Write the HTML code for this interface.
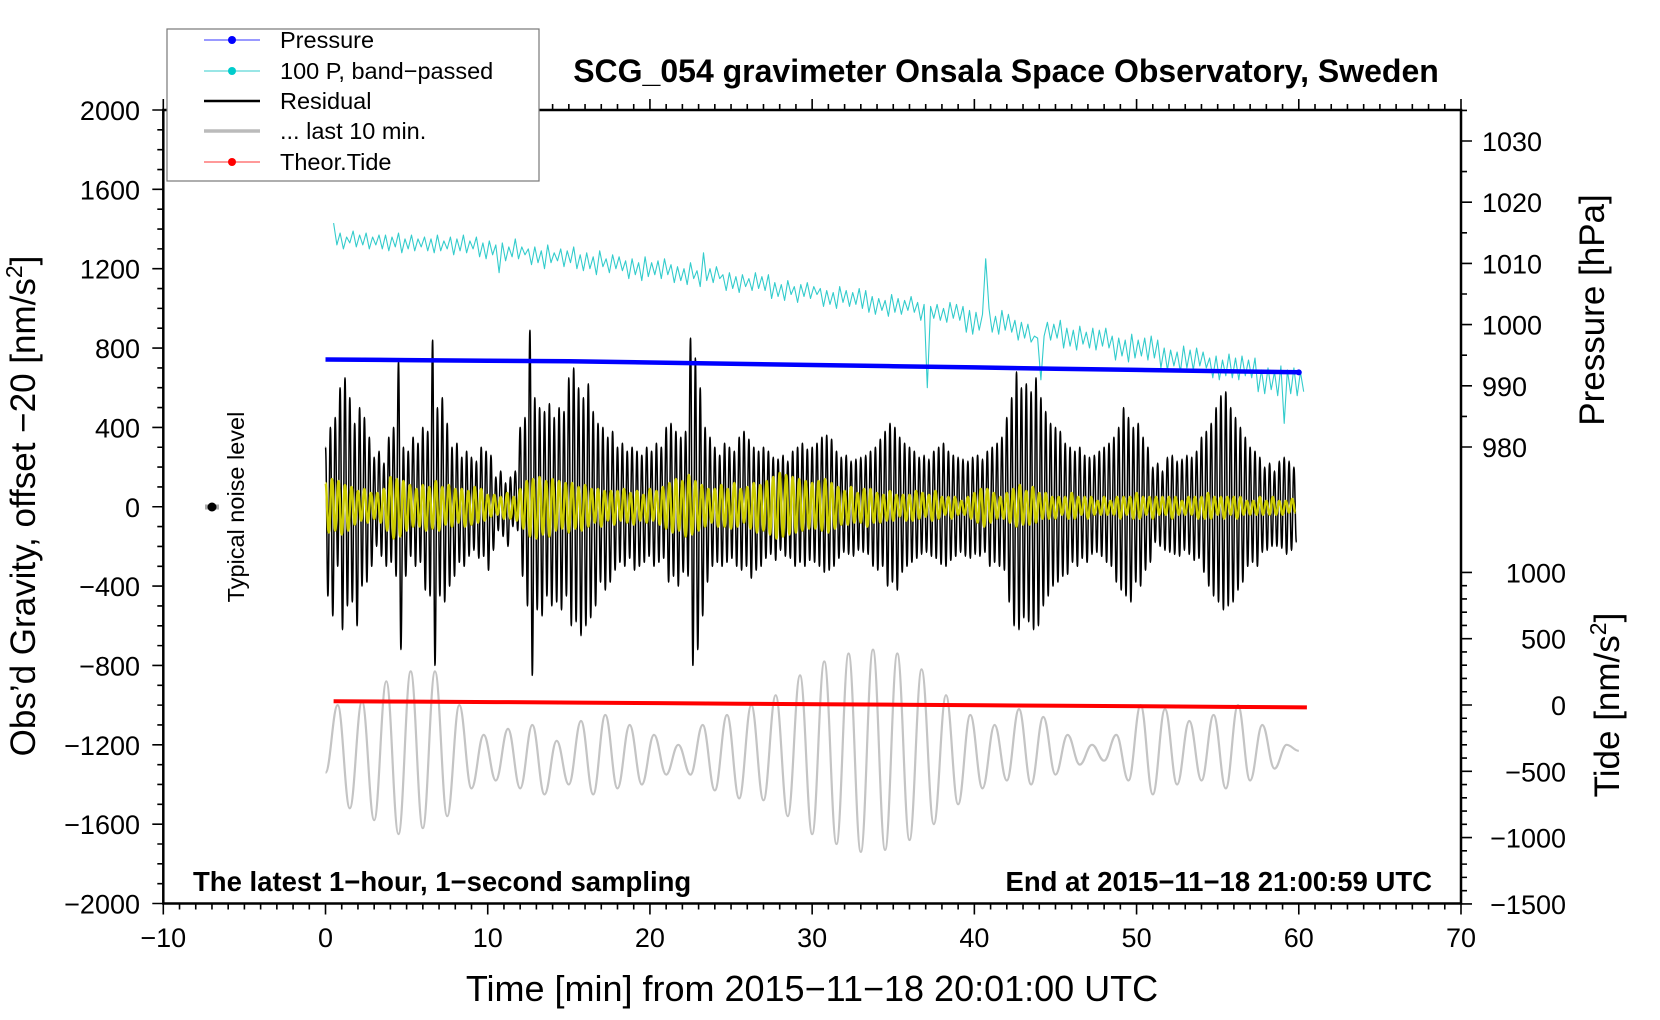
<!DOCTYPE html>
<html><head><meta charset="utf-8"><style>
html,body{margin:0;padding:0;background:#fff;}
svg{display:block;font-family:"Liberation Sans",Arial,sans-serif;}
</style></head><body>
<svg id="chart" width="1660" height="1020" viewBox="0 0 1660 1020" xmlns="http://www.w3.org/2000/svg">
<rect x="0" y="0" width="1660" height="1020" fill="#fff"/>
<g id="marks"></g>
<g id="axes"></g>
<text x="1006" y="82" text-anchor="middle" font-size="32" font-weight="bold">SCG_054 gravimeter Onsala Space Observatory, Sweden</text>
<text x="193" y="891" font-size="27.5" font-weight="bold">The latest 1−hour, 1−second sampling</text>
<text x="1432" y="891" text-anchor="end" font-size="27.5" font-weight="bold">End at 2015−11−18 21:00:59 UTC</text>
<text x="812" y="1001" text-anchor="middle" font-size="36">Time [min] from 2015−11−18 20:01:00 UTC</text>
<text transform="translate(35,506) rotate(-90)" text-anchor="middle" font-size="35">Obs’d Gravity, offset −20 [nm/s<tspan dy="-13" font-size="23">2</tspan><tspan dy="13">]</tspan></text>
<text transform="translate(1604,310) rotate(-90)" text-anchor="middle" font-size="35">Pressure [hPa]</text>
<text transform="translate(1619,705) rotate(-90)" text-anchor="middle" font-size="35">Tide [nm/s<tspan dy="-13" font-size="23">2</tspan><tspan dy="13">]</tspan></text>
<g>
<line x1="205" y1="507" x2="219" y2="507" stroke="#aaa" stroke-width="5"/>
<circle cx="212" cy="507" r="4.5" fill="#000"/>
</g>
<text transform="translate(244,507) rotate(-90)" text-anchor="middle" font-size="23.5">Typical noise level</text>
<g>
<rect x="167" y="29" width="372" height="152" fill="#fff" stroke="#777" stroke-width="1.2"/>
<g><line x1="204" y1="40" x2="260" y2="40" stroke="#33f" stroke-width="1"/><circle cx="232" cy="40" r="4" fill="#00f"/><text x="280" y="48" font-size="23.5">Pressure</text></g>
<g><line x1="204" y1="71" x2="260" y2="71" stroke="#3cc" stroke-width="1"/><circle cx="232" cy="71" r="4" fill="#0cc"/><text x="280" y="79" font-size="23.5">100 P, band−passed</text></g>
<g><line x1="204" y1="101" x2="260" y2="101" stroke="#000" stroke-width="2.5"/><text x="280" y="109" font-size="23.5">Residual</text></g>
<g><line x1="204" y1="131" x2="260" y2="131" stroke="#bbb" stroke-width="3.5"/><text x="280" y="139" font-size="23.5">... last 10 min.</text></g>
<g><line x1="204" y1="162" x2="260" y2="162" stroke="#f33" stroke-width="1"/><circle cx="232" cy="162" r="4" fill="#f00"/><text x="280" y="170" font-size="23.5">Theor.Tide</text></g>
</g>
</svg>
<script>
// ---- data ----
const residual=[300,-450,400,-550,450,-300,600,-620,650,-500,550,-480,420,-600,500,-400,450,-380,350,-300,
250,-200,280,-250,220,-300,350,-280,400,-350,730,-720,300,-350,280,-250,350,-300,320,-280,
400,-420,380,-450,840,-800,500,-450,550,-480,420,-400,300,-350,320,-280,250,-300,280,-250,
250,-220,230,-260,300,-250,280,-320,260,-220,150,-120,180,-150,120,-200,150,-100,180,-120,
400,-350,450,-500,890,-850,550,-520,500,-550,480,-450,520,-500,450,-480,500,-520,480,-450,
650,-600,700,-580,600,-650,550,-600,620,-560,480,-500,420,-380,400,-420,350,-380,380,-320,
300,-280,320,-300,280,-260,300,-320,280,-300,260,-280,300,-250,280,-300,320,-280,300,-260,
400,-380,420,-350,380,-400,350,-330,380,-350,850,-800,750,-720,600,-550,400,-380,350,-300,
300,-280,260,-300,320,-280,300,-260,280,-300,350,-320,380,-300,340,-360,300,-320,280,-300,
300,-260,280,-240,250,-270,240,-220,260,-250,230,-260,280,-300,300,-280,320,-300,290,-270,
300,-280,320,-300,350,-330,360,-320,340,-300,280,-260,250,-230,260,-240,230,-250,240,-220,
250,-230,260,-240,280,-300,300,-320,340,-300,380,-400,420,-380,400,-420,350,-330,320,-300,
300,-280,280,-260,250,-240,260,-230,240,-250,280,-260,300,-290,320,-300,280,-270,260,-250,
250,-230,240,-250,230,-260,250,-240,260,-250,240,-230,280,-300,300,-280,320,-300,350,-320,
450,-480,550,-600,680,-620,600,-560,620,-580,580,-620,650,-600,550,-500,480,-450,420,-400,
400,-380,380,-350,320,-340,300,-280,280,-300,300,-260,260,-280,250,-240,260,-230,280,-250,
300,-280,320,-300,350,-380,400,-420,500,-450,450,-480,400,-380,420,-400,350,-320,300,-280,
200,-180,220,-200,180,-220,250,-230,260,-240,230,-250,240,-220,260,-240,250,-270,280,-260,
350,-330,380,-400,420,-450,500,-480,560,-520,580,-500,500,-480,450,-420,400,-380,350,-300,
300,-280,280,-300,250,-230,200,-220,220,-200,180,-200,230,-210,250,-240,230,-220,200,-180];
const residualStep=0.15;
const bandpassed=[120,-130,140,-120,130,-140,110,-120,100,-90,80,-70,90,-80,70,
-60,70,-80,90,-120,150,-160,140,-150,130,-120,110,-100,90,-100,
110,-120,100,-110,130,-120,100,-90,110,-100,90,-80,90,-100,80,
-90,100,-80,90,-70,60,-50,60,-40,50,-60,70,-60,50,-70,
90,-110,130,-150,140,-160,150,-140,130,-150,140,-120,130,-110,120,
-130,120,-110,100,-120,110,-100,90,-80,90,-100,80,-70,80,-90,
80,-70,90,-80,70,-90,80,-70,60,-80,90,-70,80,-90,100,
-110,120,-130,140,-120,130,-150,160,-140,130,-120,110,-100,90,-80,
90,-100,110,-100,90,-110,120,-100,90,-80,100,-110,120,-130,110,
-120,130,-140,150,-160,170,-150,160,-140,150,-130,140,-120,130,-110,
120,-110,130,-120,140,-130,120,-110,100,-90,80,-90,100,-80,70,
-80,90,-100,90,-80,70,-80,60,-70,80,-70,60,-50,60,-70,
60,-70,80,-60,70,-50,60,-70,80,-60,50,-40,50,-60,50,
-40,30,-40,50,-60,70,-80,90,-100,90,-80,70,-60,50,-60,
70,-80,90,-100,110,-90,80,-90,100,-80,70,-60,70,-60,50,
-60,50,-40,50,-60,70,-60,50,-40,50,-60,50,-40,30,-40,
50,-40,30,-40,50,-60,50,-40,50,-60,70,-60,50,-40,50,
-60,50,-40,50,-40,50,-60,50,-40,30,-40,50,-40,50,-60,
50,-60,70,-60,50,-40,50,-60,50,-40,50,-60,50,-40,30,
-40,30,-40,50,-40,30,-40,50,-40,30,-40,30,-30,40,-30];
const bandpassedStep=0.2;
const pressure100=[1430,1320,1380,1300,1360,1330,1390,1310,1370,1320,1380,1300,1360,1320,1370,
1300,1370,1290,1360,1310,1380,1280,1350,1300,1370,1290,1350,1310,1360,1290,
1350,1280,1370,1290,1340,1300,1360,1270,1350,1290,1370,1280,1340,1300,1360,
1260,1330,1250,1340,1270,1320,1180,1330,1240,1310,1260,1350,1250,1310,1270,
1300,1220,1310,1230,1290,1200,1320,1230,1280,1240,1300,1210,1290,1230,1310,
1200,1270,1190,1280,1200,1260,1170,1290,1210,1250,1180,1270,1200,1260,1190,
1240,1150,1250,1170,1230,1140,1260,1160,1230,1170,1240,1150,1250,1170,1220,
1130,1210,1140,1200,1120,1230,1150,1190,1110,1280,1140,1200,1130,1210,1150,
1170,1090,1180,1100,1160,1080,1170,1110,1150,1090,1180,1100,1160,1090,1170,
1050,1130,1060,1120,1040,1140,1070,1110,1030,1120,1060,1130,1050,1110,1070,
1100,1010,1090,1020,1080,1000,1110,1030,1090,1010,1080,1020,1100,1000,1090,
980,1060,970,1050,990,1040,960,1070,980,1050,970,1040,990,1060,980,
1030,940,1020,600,1010,950,1020,940,1000,930,1030,950,1020,940,1010,
880,990,870,980,890,970,1250,1000,880,960,870,990,890,970,880,
940,840,930,850,920,830,860,850,640,860,930,840,920,850,940,
800,900,810,890,790,910,820,880,800,900,790,890,810,900,800,
860,740,850,760,840,730,870,750,840,760,850,740,860,750,840,
700,800,690,790,710,780,680,810,700,790,690,800,710,780,700,
750,650,760,640,740,660,770,650,750,640,760,660,740,650,750,
580,690,570,700,590,680,560,710,420,690,570,700,560,680,580];
const pressure100Start=0.5, pressure100Step=0.2;
const last10=[-1340,-1000,-1520,-980,-1580,-880,-1650,-830,-1620,-830,-1560,-1000,-1420,-1150,-1380,-1120,-1420,-1100,-1450,-1180,
-1400,-1080,-1450,-1050,-1420,-1100,-1400,-1150,-1350,-1200,-1350,-1100,-1430,-1050,-1470,-1000,-1480,-950,-1560,-850,
-1650,-780,-1700,-740,-1740,-720,-1730,-740,-1680,-820,-1600,-950,-1500,-1050,-1420,-1100,-1380,-1020,-1400,-1060,
-1350,-1150,-1300,-1200,-1280,-1150,-1380,-1000,-1450,-1020,-1400,-1080,-1380,-1050,-1420,-1000,-1380,-1100,-1320,-1200,-1230];
const last10Step=0.75;
const pressureTimes=[0,5,10,15,20,25,30,35,40,45,50,55,60];
const pressureHpa=[994.3,994.2,994.1,994.0,993.8,993.6,993.4,993.2,993.0,992.8,992.6,992.4,992.2];
const tideTimes=[0.5,5.5,10.5,15.5,20.5,25.5,30.5,35.5,40.5,45.5,50.5,55.5,60.5];
const tideValues=[28,26,22,18,14,10,6,2,-2,-6,-10,-14,-18];
const xTicks=[-10,0,10,20,30,40,50,60,70];
const yTicks=[2000,1600,1200,800,400,0,-400,-800,-1200,-1600,-2000];
const pTicks=[980,990,1000,1010,1020,1030];
const tTicks=[1000,500,0,-500,-1000,-1500];

// ---- scales ----
const X0=163.3,X1=1461,Y0=110,Y1=903.5;
const sx=t=>X0+(t+10)/80*(X1-X0);
const sy=v=>Y0+(2000-v)/4000*(Y1-Y0);
const sp=p=>141+(1030-p)*6.12;
const st=v=>705-v*0.1326;
const NS='http://www.w3.org/2000/svg';
const marks=document.getElementById('marks'),axes=document.getElementById('axes');
function mk(tag,attrs,parent){const e=document.createElementNS(NS,tag);for(const k in attrs)e.setAttribute(k,attrs[k]);parent.appendChild(e);return e;}
function poly(pts,stroke,w,name){
  const e=mk('polyline',{points:pts.map(p=>p[0].toFixed(1)+','+p[1].toFixed(1)).join(' '),fill:'none',stroke:stroke,'stroke-width':w,'stroke-linejoin':'round'},marks);
  
  
  return e;
}
// smooth curve through extrema with horizontal tangents
function smooth(pts,stroke,w,name){
  let d='M'+pts[0][0].toFixed(1)+','+pts[0][1].toFixed(1);
  for(let i=1;i<pts.length;i++){const a=pts[i-1],b=pts[i],dx=(b[0]-a[0])*0.4;
    d+=`C${(a[0]+dx).toFixed(1)},${a[1].toFixed(1)} ${(b[0]-dx).toFixed(1)},${b[1].toFixed(1)} ${b[0].toFixed(1)},${b[1].toFixed(1)}`;}
  const e=mk('path',{d:d,fill:'none',stroke:stroke,'stroke-width':w},marks);
  
  
  return e;
}
poly(pressure100.map((v,i)=>[sx(pressure100Start+i*pressure100Step),sy(v)]),'#3cc',1.1,'bandpassed-pressure-line');
smooth(last10.map((v,i)=>[sx(i*last10Step),sy(v)]),'#c4c4c4',2.2,'last-10-min-line');
smooth(residual.map((v,i)=>[sx(i*residualStep),sy(v)]),'#000',1.5,'residual-line');
smooth(bandpassed.map((v,i)=>[sx(i*bandpassedStep),sy(v)]),'#cc0',2.4,'pressure-correction-line');
poly(pressureHpa.map((v,i)=>[sx(pressureTimes[i]),sp(v)]),'#00f',4.5,'pressure-line');
const pe=mk('circle',{cx:sx(pressureTimes[pressureTimes.length-1]),cy:sp(pressureHpa[pressureHpa.length-1]),r:3,fill:'#00f'},marks);


poly(tideValues.map((v,i)=>[sx(tideTimes[i]),st(v)]),'#f00',4,'theoretical-tide-line');

// ---- axes ----
const frame=mk('rect',{x:X0,y:Y0,width:X1-X0,height:Y1-Y0,fill:'none',stroke:'#000','stroke-width':2.5},axes);


let d='';
for(let t=-10;t<=70;t++){const x=sx(t),L=(t%10===0)?11:6;d+=`M${x},${Y1}v${L}M${x},${Y0}v${-L}`;}
for(let v=-2000;v<=2000;v+=100){const y=sy(v),L=(v%400===0)?11:6;d+=`M${X0},${y}h${-L}`;}
for(let p=975;p<=1035;p+=5){const y=sp(p);if(y<Y0||y>470)continue;const L=(p%10===0)?11:6;d+=`M${X1},${y}h${L}`;}
for(let v=-1500;v<=1000;v+=100){const y=st(v),L=(v%500===0)?11:6;d+=`M${X1},${y}h${L}`;}
const tk=mk('path',{d:d,stroke:'#000','stroke-width':1.6,fill:'none'},axes);


const fmt=v=>String(v).replace('-','\u2212');
xTicks.forEach(t=>{const e=mk('text',{x:sx(t),y:947,'text-anchor':'middle','font-size':27},axes);e.textContent=fmt(t);

});
yTicks.forEach(v=>{const e=mk('text',{x:140,y:sy(v)+10,'text-anchor':'end','font-size':27},axes);e.textContent=fmt(v);

});
pTicks.forEach(p=>{const e=mk('text',{x:1482,y:sp(p)+10,'font-size':27},axes);e.textContent=fmt(p);

});
tTicks.forEach(v=>{const e=mk('text',{x:1566,y:st(v)+10,'text-anchor':'end','font-size':27},axes);e.textContent=fmt(v);

});
</script>
</body></html>
